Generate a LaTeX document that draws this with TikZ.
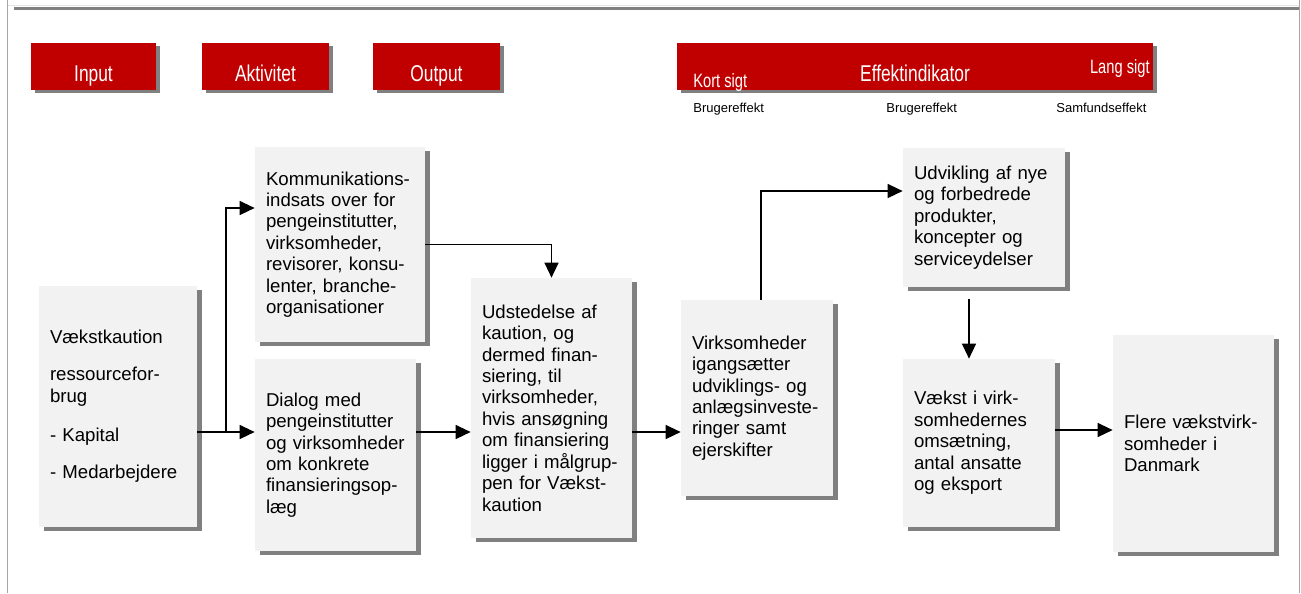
\documentclass[tikz,border=0pt]{standalone}
\usepackage{fontspec}
\setmainfont{Liberation Sans}
\newfontfamily\hdfont[FakeStretch=0.76]{Liberation Sans}
\usetikzlibrary{arrows.meta,shadows}
\definecolor{hdred}{RGB}{192,0,0}
\definecolor{boxgray}{RGB}{242,242,242}
\definecolor{shgray}{RGB}{128,128,128}

\begin{document}
\begin{tikzpicture}[x=0.02cm,y=-0.02cm,
	hdrbox/.style={fill=hdred, minimum height=0.94cm, inner sep=0,
		drop shadow={shadow xshift=0.08cm, shadow yshift=-0.06cm, fill=shgray, opacity=1}},
	hdrtxt/.style={text=white, font=\hdfont\fontsize{13}{15}\selectfont, inner sep=0, anchor=base},
	subtxt/.style={font=\fontsize{7.4}{9}\selectfont, inner sep=0, anchor=base west},
	chainbox/.style={fill=boxgray, inner sep=0, align=left,
		font=\fontsize{10.6}{12.2}\selectfont,
		drop shadow={shadow xshift=0.1cm, shadow yshift=-0.08cm, fill=shgray, opacity=1}},
	arr/.style={-{Triangle[length=0.3cm,width=0.28cm]}, line width=0.026cm}]
		\useasboundingbox (0,0) rectangle (1301,593);

		% frame
		\draw[shgray!20, line width=0.02cm] (7,5.5) -- (1299,5.5);
		\draw[shgray!70, line width=0.02cm] (7,0) -- (7,593);
		\draw[shgray!70, line width=0.02cm] (1299,0) -- (1299,593);
		\draw[shgray, line width=0.06cm] (14,8.5) -- (1299,8.5);

		% headers
		\node[hdrbox, minimum width=2.5cm] (hin) at (93.5,66.5) {};
		\node[hdrbox, minimum width=2.54cm] (hakt) at (265.5,66.5) {};
		\node[hdrbox, minimum width=2.54cm] (hout) at (436.5,66.5) {};
		\node[hdrbox, minimum width=9.52cm] (heff) at (915,66.5) {};
		\node[hdrtxt] (tin) at (93.5,81) {Input};
		\node[hdrtxt] (takt) at (265.5,81) {Aktivitet};
		\node[hdrtxt] (tout) at (436.5,81) {Output};
		\node[hdrtxt] (teff) at (915,81) {Effektindikator};
		\node[hdrtxt, anchor=base west, font=\hdfont\fontsize{11}{13}\selectfont] (tkort) at (693,87) {Kort sigt};
		\node[hdrtxt, anchor=base east, font=\hdfont\fontsize{11}{13}\selectfont] (tlang) at (1150,73) {Lang sigt};
		\node[subtxt] (sb1) at (693,112) {Brugereffekt};
		\node[subtxt] (sb2) at (886,112) {Brugereffekt};
		\node[subtxt] (sb3) at (1056,112) {Samfundseffekt};

		% boxes
		\node[chainbox, minimum width=3.16cm, minimum height=4.82cm, text width=2.72cm] (inp) at (118,406.5)
			{Vækstkaution\\[0.31cm]ressourcefor-\\brug\\[0.35cm]- Kapital\\[0.33cm]- Medarbejdere};
		\node[chainbox, minimum width=3.4cm, minimum height=3.9cm, text width=2.96cm] (kom) at (340,244.5)
			{Kommunikations-\\indsats over for\\pengeinstitutter,\\virksomheder,\\revisorer, konsu-\\lenter, branche-\\organisationer};
		\node[chainbox, minimum width=3.22cm, minimum height=3.84cm, text width=2.78cm] (dia) at (335.5,455)
			{Dialog med\\pengeinstitutter\\og virksomheder\\om konkrete\\finansieringsop-\\læg};
		\node[chainbox, minimum width=3.22cm, minimum height=5.2cm, text width=2.78cm] (uds) at (551.5,408)
			{Udstedelse af\\kaution, og\\dermed finan-\\siering, til\\virksomheder,\\hvis ansøgning\\om finansiering\\ligger i målgrup-\\pen for Vækst-\\kaution};
		\node[chainbox, minimum width=3.04cm, minimum height=3.92cm, text width=2.6cm] (vir) at (757,398)
			{Virksomheder\\igangsætter\\udviklings- og\\anlægsinveste-\\ringer samt\\ejerskifter};
		\node[chainbox, minimum width=3.24cm, minimum height=2.78cm, text width=2.8cm] (udv) at (984,217.5)
			{Udvikling af nye\\og forbedrede\\produkter,\\koncepter og\\serviceydelser};
		\node[chainbox, minimum width=3.04cm, minimum height=3.36cm, text width=2.6cm] (vak) at (979,443)
			{Vækst i virk-\\somhedernes\\omsætning,\\antal ansatte\\og eksport};
		\node[chainbox, minimum width=3.22cm, minimum height=4.34cm, text width=2.78cm] (fle) at (1193.5,443.5)
			{Flere vækstvirk-\\somheder i\\Danmark\\[0.34cm]};

		% arrows
		\coordinate (jin) at (226,432);
		\coordinate (jkom) at (226,208);
		\coordinate (jvir) at (761,191);
		\coordinate (judv) at (969,299);
		\draw[arr] (inp.east |- jin) -- (dia.west |- jin);
		\draw[arr] (jin) -- (jkom) -- (kom.west |- jkom);
		\draw[arr] (kom.east) -| (uds.north);
		\draw[arr] (dia.east |- jin) -- (uds.west |- jin);
		\draw[arr] (uds.east |- jin) -- (vir.west |- jin);
		\draw[arr] (vir.north -| jvir) -- (jvir) -- (udv.west |- jvir);
		\draw[arr] (judv) -- (vak.north -| judv);
		\draw[arr] ([yshift=0.26cm]vak.east) -- ([yshift=0.26cm]vak.east -| fle.west);
	\end{tikzpicture}
\end{document}
